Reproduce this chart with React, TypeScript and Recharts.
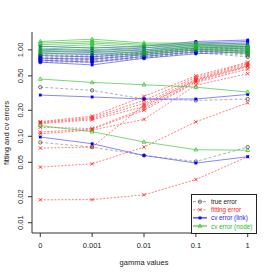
import { LineChart, Line, XAxis, YAxis } from 'recharts';

// gamma values on the x axis
const gammaLabels = ['0', '0.001', '0.01', '0.1', '1'];
const gammaPos = [1, 2, 3, 4, 5];
const yTicks = [0.01, 0.02, 0.05, 0.1, 0.2, 0.5, 1];

// true error, one row per run
const trueError = [
  [0.37, 0.34, 0.27, 0.26, 0.27],
  [0.085, 0.075, 0.06, 0.051, 0.075],
  [0.88, 0.85, 0.95, 1.05, 1.1],
  [0.85, 0.83, 0.92, 1.02, 1.05],
  [0.82, 0.8, 0.9, 1.0, 1.0],
  [0.8, 0.79, 0.88, 0.99, 0.97],
  [0.78, 0.77, 0.86, 0.97, 0.93],
  [0.76, 0.75, 0.84, 0.96, 0.9],
  [0.74, 0.74, 0.82, 0.94, 0.87],
  [0.72, 0.72, 0.8, 0.93, 0.83],
];

// fitting error
const fittingError = [
  [0.148, 0.171, 0.29, 0.5, 0.72],
  [0.145, 0.165, 0.26, 0.48, 0.7],
  [0.143, 0.16, 0.24, 0.46, 0.68],
  [0.14, 0.155, 0.22, 0.45, 0.66],
  [0.127, 0.123, 0.21, 0.43, 0.64],
  [0.112, 0.121, 0.2, 0.42, 0.6],
  [0.107, 0.118, 0.157, 0.39, 0.53],
  [0.073, 0.075, 0.23, 0.44, 0.65],
  [0.044, 0.048, 0.075, 0.147, 0.244],
  [0.0184, 0.0185, 0.021, 0.0316, 0.058],
];

// cv error (link)
const cvLink = [
  [0.3, 0.285, 0.27, 0.27, 0.305],
  [0.098, 0.082, 0.06, 0.049, 0.058],
  [1.1, 1.05, 1.1, 1.25, 1.3],
  [1.02, 0.98, 1.05, 1.2, 1.25],
  [0.97, 0.93, 1.0, 1.15, 1.2],
  [0.92, 0.88, 0.96, 1.1, 1.15],
  [0.86, 0.83, 0.92, 1.05, 1.1],
  [0.8, 0.78, 0.88, 1.0, 1.05],
  [0.76, 0.72, 0.84, 0.95, 1.0],
  [0.72, 0.67, 0.8, 0.9, 0.95],
];

// cv error (node)
const cvNode = [
  [0.46, 0.42, 0.395, 0.37, 0.325],
  [0.133, 0.113, 0.086, 0.07, 0.069],
  [1.25, 1.33, 1.2, 1.2, 1.15],
  [1.2, 1.25, 1.16, 1.17, 1.1],
  [1.15, 1.2, 1.12, 1.14, 1.08],
  [1.08, 1.15, 1.06, 1.12, 1.05],
  [1.02, 1.08, 1.0, 1.09, 1.02],
  [0.98, 1.02, 0.96, 1.06, 0.98],
  [0.94, 0.96, 0.92, 1.03, 0.94],
  [0.9, 0.9, 0.88, 1.0, 0.9],
];

const data = gammaPos.map((g, j) => {
  const row: Record<string, number> = { g };
  trueError.forEach((r, i) => (row['t' + i] = r[j]));
  fittingError.forEach((r, i) => (row['f' + i] = r[j]));
  cvLink.forEach((r, i) => (row['b' + i] = r[j]));
  cvNode.forEach((r, i) => (row['n' + i] = r[j]));
  return row;
});

const font = '"Liberation Sans", Arial, sans-serif';

const circleDot = (p: any) => (
  <circle key={`${p.dataKey}-${p.index}`} cx={p.cx} cy={p.cy} r={1.7} fill="none" stroke="#333" strokeWidth={0.7} />
);
const crossDot = (p: any) => (
  <path
    key={`${p.dataKey}-${p.index}`}
    d={`M${p.cx - 1.7},${p.cy - 1.7}L${p.cx + 1.7},${p.cy + 1.7}M${p.cx - 1.7},${p.cy + 1.7}L${p.cx + 1.7},${p.cy - 1.7}`}
    stroke="#ff2020"
    strokeWidth={0.8}
  />
);
const squareDot = (p: any) => (
  <rect key={`${p.dataKey}-${p.index}`} x={p.cx - 1.4} y={p.cy - 1.4} width={2.8} height={2.8} fill="#0000ff" />
);
const triDot = (p: any) => (
  <path
    key={`${p.dataKey}-${p.index}`}
    d={`M${p.cx},${p.cy - 2.1}L${p.cx + 1.9},${p.cy + 1.3}L${p.cx - 1.9},${p.cy + 1.3}Z`}
    fill="none"
    stroke="#20c020"
    strokeWidth={0.7}
  />
);

const YTick = (p: any) => {
  const v = p.payload.value;
  return (
    <text
      x={21}
      y={p.y}
      transform={`rotate(-90, 21, ${p.y})`}
      textAnchor="middle"
      dominantBaseline="central"
      fontSize={7.5}
      fontFamily={font}
      fill="#222"
    >
      {v.toFixed(2)}
    </text>
  );
};

const YLabel = () => (
  <text
    x={6}
    y={133}
    transform="rotate(-90, 6, 133)"
    textAnchor="middle"
    dominantBaseline="central"
    fontSize={7.5}
    fontFamily={font}
    fill="#222"
  >
    fitting and cv errors
  </text>
);

const legendItems = [
  { label: 'true error', color: '#222', line: '#999', dash: '3 2', mark: 'circle' },
  { label: 'fitting error', color: '#ff2020', line: '#ff8080', dash: '2 1.5', mark: 'cross' },
  { label: 'cv error (link)', color: '#2020ff', line: '#0000ff', dash: undefined, mark: 'square' },
  { label: 'cv error (node)', color: '#20c020', line: '#20c020', dash: undefined, mark: 'tri' },
];

const LegendBox = () => (
  <svg width={66} height={40} style={{ position: 'absolute', left: 191, top: 194 }}>
    <rect x={0.5} y={0.5} width={65} height={39} fill="#fff" stroke="#222" strokeWidth={1} />
    {legendItems.map((it, i) => {
      const y = 7.7 + i * 8.1;
      const cx = 9;
      return (
        <g key={it.label}>
          <line x1={2} x2={16} y1={y} y2={y} stroke={it.line} strokeWidth={1} strokeDasharray={it.dash} />
          {it.mark === 'circle' && circleDot({ cx, cy: y, dataKey: 'l', index: i })}
          {it.mark === 'cross' && crossDot({ cx, cy: y, dataKey: 'l', index: i })}
          {it.mark === 'square' && squareDot({ cx, cy: y, dataKey: 'l', index: i })}
          {it.mark === 'tri' && triDot({ cx, cy: y, dataKey: 'l', index: i })}
          <text x={20} y={y} dominantBaseline="central" fontSize={6.3} fontFamily={font} fill={it.color}>
            {it.label}
          </text>
        </g>
      );
    })}
  </svg>
);

export default function App() {
  return (
    <div style={{ position: 'absolute', left: 0, top: 0, width: 273, height: 273, background: '#fff' }}>
      <LineChart width={273} height={273} data={data} margin={{ top: 32, right: 17, bottom: 0, left: 0 }}>
        <XAxis
          dataKey="g"
          type="number"
          domain={[0.84, 5.16]}
          ticks={gammaPos}
          tickFormatter={(v: number) => gammaLabels[v - 1]}
          height={40}
          tickSize={4}
          tickMargin={6}
          stroke="#333"
          tick={{ fontSize: 7.5, fontFamily: font, fill: '#222' }}
          label={{ value: 'gamma values', position: 'insideBottom', offset: 8, fontSize: 7.5, fontFamily: font, fill: '#222' }}
        />
        <XAxis xAxisId="top" orientation="top" dataKey="g" type="number" domain={[0.84, 5.16]} height={0} tick={false} tickLine={false} stroke="#333" />
        <YAxis
          scale="log"
          domain={[0.0076, 1.61]}
          allowDataOverflow
          ticks={yTicks}
          width={32}
          tickSize={4}
          stroke="#333"
          tick={YTick}
          label={<YLabel />}
        />
        <YAxis yAxisId="right" orientation="right" scale="log" domain={[0.0076, 1.61]} width={0} tick={false} tickLine={false} stroke="#333" />
        {trueError.map((_, i) => (
          <Line key={'t' + i} dataKey={'t' + i} type="linear" stroke="#a8a8a8" strokeWidth={0.9} strokeDasharray="3 2" dot={circleDot} activeDot={false} isAnimationActive={false} />
        ))}
        {fittingError.map((_, i) => (
          <Line key={'f' + i} dataKey={'f' + i} type="linear" stroke="#ff7070" strokeWidth={0.9} strokeDasharray="2 1.5" dot={crossDot} activeDot={false} isAnimationActive={false} />
        ))}
        {cvLink.map((_, i) => (
          <Line key={'b' + i} dataKey={'b' + i} type="linear" stroke="#4040ff" strokeOpacity={0.7} strokeWidth={0.9} dot={squareDot} activeDot={false} isAnimationActive={false} />
        ))}
        {cvNode.map((_, i) => (
          <Line key={'n' + i} dataKey={'n' + i} type="linear" stroke="#30c030" strokeOpacity={0.7} strokeWidth={0.9} dot={triDot} activeDot={false} isAnimationActive={false} />
        ))}
      </LineChart>
      <LegendBox />
    </div>
  );
}
